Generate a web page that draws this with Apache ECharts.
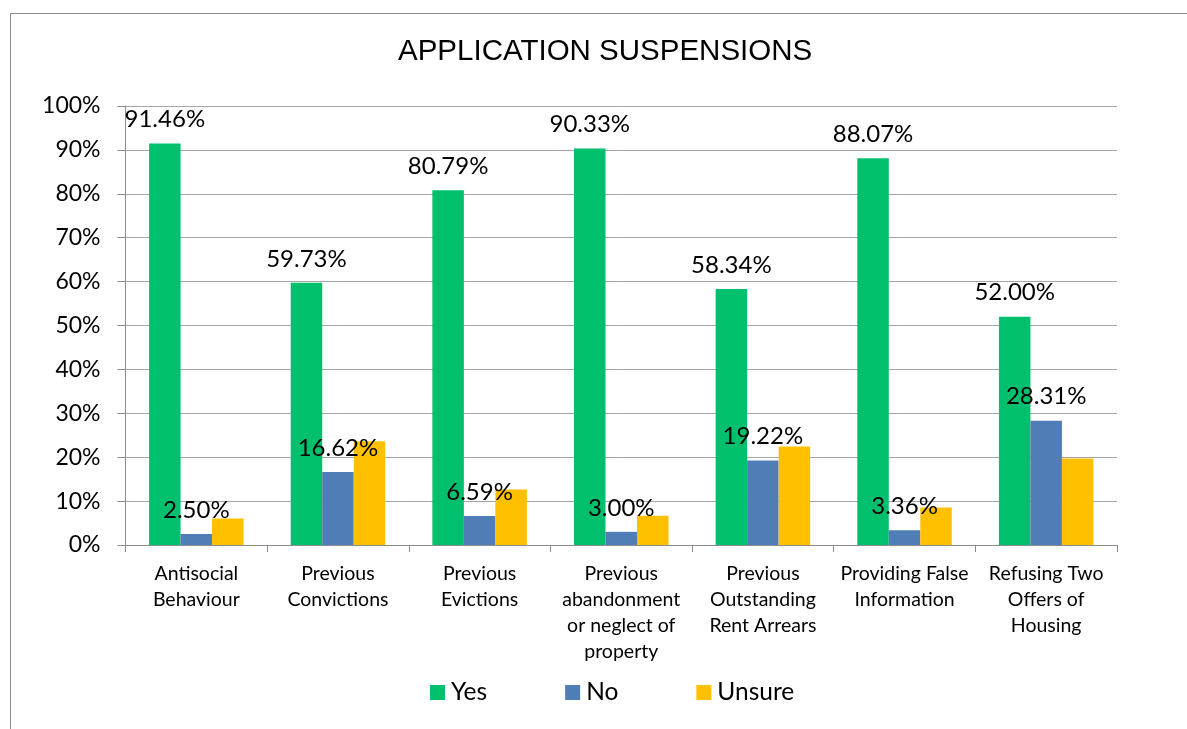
<!DOCTYPE html>
<html>
<head>
<meta charset="utf-8">
<script src="https://cdn.jsdelivr.net/npm/echarts@6/dist/echarts.min.js"></script>
<style>
html,body{margin:0;padding:0;background:#fff;}
#chart{position:absolute;left:0;top:0;width:1187px;height:729px;}
#frame{position:absolute;left:10px;top:13px;width:1300px;height:800px;border:1px solid #8c8c8c;pointer-events:none;}
</style>
</head>
<body>
<div id="chart"></div>
<div id="frame"></div>
<script>
const categories = [
  'Antisocial\nBehaviour',
  'Previous\nConvictions',
  'Previous\nEvictions',
  'Previous\nabandonment\nor neglect of\nproperty',
  'Previous\nOutstanding\nRent Arrears',
  'Providing False\nInformation',
  'Refusing Two\nOffers of\nHousing'
];
const yesValues = [91.46, 59.73, 80.79, 90.33, 58.34, 88.07, 52.00];
const noValues = [2.50, 16.62, 6.59, 3.00, 19.22, 3.36, 28.31];
const unsureValues = [6.04, 23.65, 12.62, 6.67, 22.44, 8.57, 19.69];
const seriesNames = ['Yes', 'No', 'Unsure'];
const colors = ['#00C06E', '#4F7EB7', '#FFC000'];

const FONT = 'Lato';
const chart = echarts.init(document.getElementById('chart'));
const labelStyle = {
  show: true, position: 'top', distance: 12,
  formatter: p => p.value.toFixed(2) + '%',
  fontFamily: FONT, fontSize: 24, color: '#000'
};
chart.setOption({
  animation: false,
  title: {
    text: 'APPLICATION SUSPENSIONS',
    left: 398, top: 37, padding: 0,
    textStyle: { fontFamily: 'Liberation Sans', fontSize: 29.5, fontWeight: 'normal', color: '#000' }
  },
  legend: {
    data: seriesNames, left: 430, top: 680, padding: 0,
    itemWidth: 15, itemHeight: 15, itemGap: 78, icon: 'rect',
    textStyle: { fontFamily: FONT, fontSize: 24.5, color: '#000', padding: [0, 0, 0, 1] }
  },
  grid: { left: 125.5, right: 70, top: 106, bottom: 184, containLabel: false },
  xAxis: {
    type: 'category', data: categories,
    axisLine: { lineStyle: { color: '#8c8c8c', width: 1 } },
    axisTick: { show: true, length: 7, lineStyle: { color: '#8c8c8c' } },
    axisLabel: { fontFamily: FONT, fontSize: 19.5, color: '#000', lineHeight: 26, margin: 16, interval: 0 }
  },
  yAxis: {
    type: 'value', min: 0, max: 100, interval: 10,
    axisLine: { show: true, lineStyle: { color: '#8c8c8c', width: 1 } },
    axisTick: { show: true, length: 8, lineStyle: { color: '#8c8c8c' } },
    axisLabel: { formatter: '{value}%', fontFamily: FONT, fontSize: 23, color: '#000', margin: 25 },
    splitLine: { lineStyle: { color: '#a6a6a6', width: 1 } }
  },
  series: [
    { name: 'Yes', type: 'bar', data: yesValues, barWidth: 31.5, barGap: '0%', itemStyle: { color: colors[0] }, label: labelStyle },
    { name: 'No', type: 'bar', data: noValues, barWidth: 31.5, barGap: '0%', itemStyle: { color: colors[1] }, label: labelStyle },
    { name: 'Unsure', type: 'bar', data: unsureValues, barWidth: 31.5, barGap: '0%', itemStyle: { color: colors[2] }, label: { show: false } }
  ]
});
</script>
</body>
</html>
